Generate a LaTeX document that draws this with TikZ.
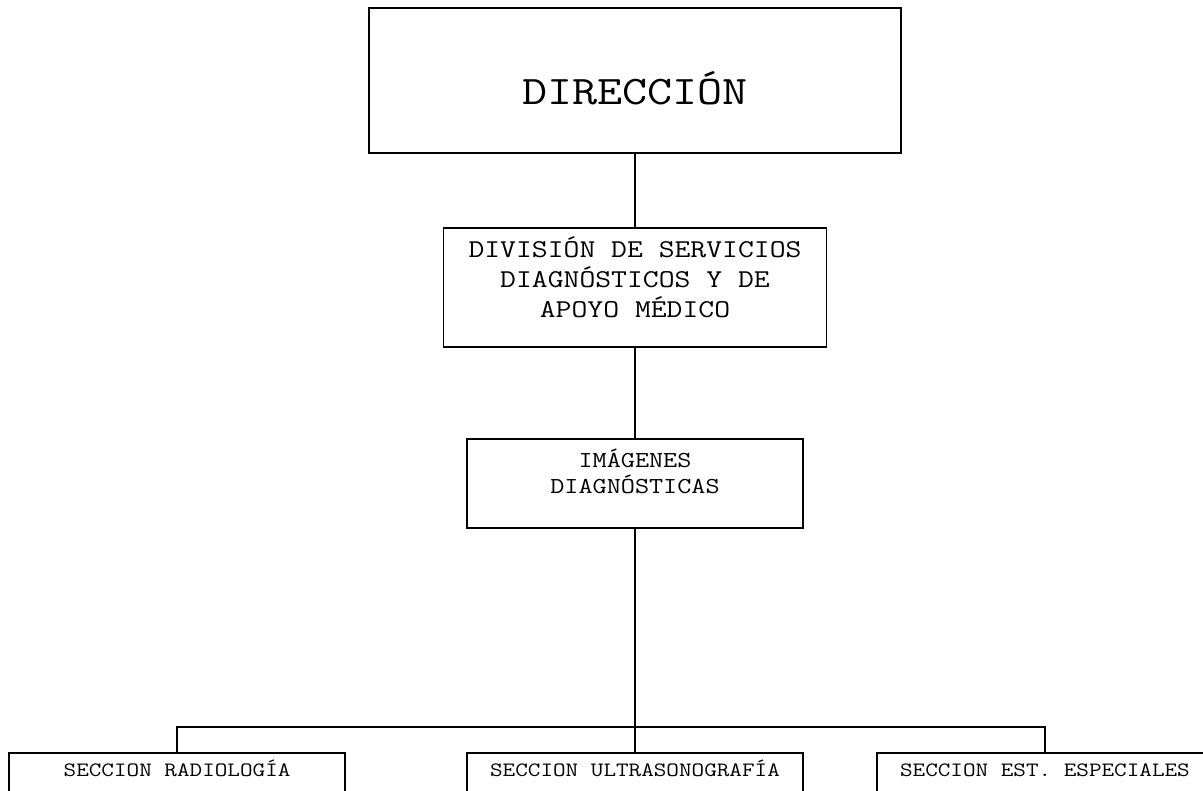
\documentclass[tikz,border=0pt]{standalone}
\usepackage{fontspec}
\setmainfont[FakeStretch=1.2]{Latin Modern Mono}
\usetikzlibrary{positioning}

\tikzset{
    caja/.style={draw, line width=1.1pt, align=center, inner sep=0pt},
    linea/.style={line width=1.1pt},
}

\begin{document}
\begin{tikzpicture}
        \useasboundingbox (0,0) rectangle (24.06,-15.82);
        \node[caja, minimum width=10.64cm, minimum height=2.9cm, text height=0.95cm,
              font=\fontsize{23.1}{28}\selectfont] (dir) at (12.70,-1.61) {DIRECCIÓN};
        \node[caja, below=1.46cm of dir, minimum width=7.66cm, minimum height=2.38cm,
              text depth=0.4cm, font=\fontsize{14.6}{17.07}\selectfont] (div)
              {DIVISIÓN DE SERVICIOS\\DIAGNÓSTICOS Y DE\\APOYO MÉDICO};
        \node[caja, below=1.8cm of div, minimum width=6.72cm, minimum height=1.78cm,
              text depth=0.48cm, font=\fontsize{13.0}{14.5}\selectfont] (img)
              {IMÁGENES\\DIAGNÓSTICAS};
        % secciones
        \tikzset{seccion/.style={caja, minimum width=6.72cm, inner ysep=0.237cm,
              text height=0.246cm, text depth=1cm, font=\fontsize{11.6}{14}\selectfont}}
        \node[seccion, below=4.46cm of img] (ult) {SECCION ULTRASONOGRAFÍA};
        \node[seccion, left=2.4cm of ult] (rad) {SECCION RADIOLOGÍA};
        \node[seccion, right=1.44cm of ult] (esp) {SECCION EST. ESPECIALES};
        \coordinate (bus) at ([yshift=0.49cm]ult.north);
        \draw[linea] (dir) -- (div);
        \draw[linea] (div) -- (img);
        \draw[linea] (img) -- (ult);
        \draw[linea] (rad.north) |- (bus) -| (esp.north);
    \end{tikzpicture}
\end{document}
